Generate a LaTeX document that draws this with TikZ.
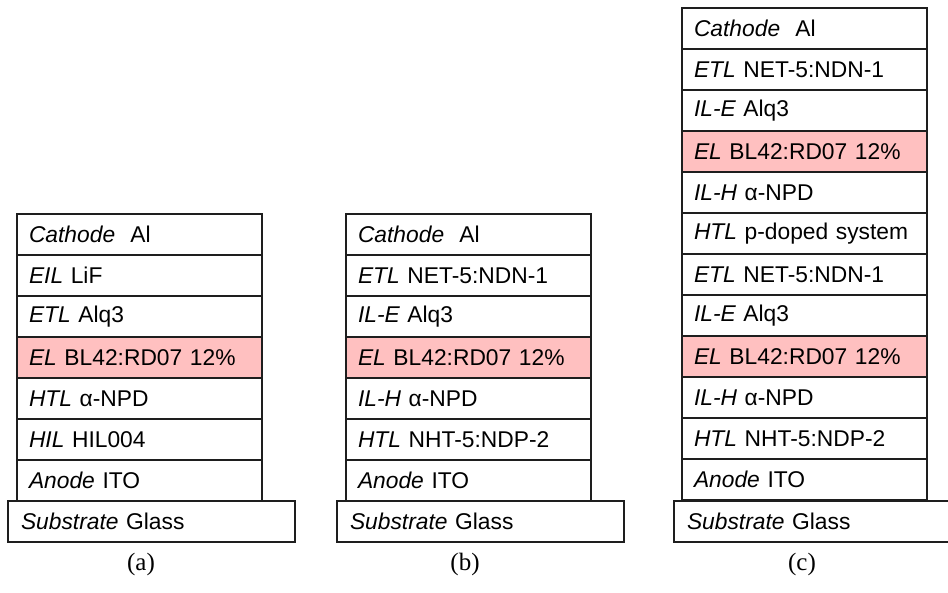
\documentclass[tikz,border=0pt]{standalone}
\usepackage{fontspec}
\setmainfont{Liberation Sans}
\newfontfamily\capfont{Liberation Serif}
\definecolor{elpink}{RGB}{255,192,192}
\definecolor{edge}{RGB}{30,30,30}
\newcommand{\lyr}[1]{{\itshape #1}}
\tikzset{
  layer/.style={draw=edge, line width=1.2pt, anchor=north west, minimum height=41pt,
    minimum width=245pt, text width=221pt, inner xsep=12pt, inner ysep=0pt, outer sep=0pt,
    align=left, font=\fontsize{22.8}{25}\selectfont, fill=white},
  elayer/.style={layer, fill=elpink},
  substrate/.style={layer, minimum width=287pt, text width=261pt, inner xsep=13pt},
  caption/.style={font=\capfont\fontsize{25}{27}\selectfont, inner sep=0pt}
}
\begin{document}
\begin{tikzpicture}[x=1pt,y=-1pt]
\useasboundingbox (0,0) rectangle (948,593);
% (a)
\node[layer]  (a1) at (17,214) {\lyr{Cathode}\ \ Al};
\node[layer]  (a2) at (17,255) {\lyr{EIL} LiF};
\node[layer]  (a3) at (17,296) {\lyr{ETL} Alq3};
\node[elayer] (a4) at (17,337) {\lyr{EL} BL42:RD07 12\%};
\node[layer]  (a5) at (17,378) {\lyr{HTL} α-NPD};
\node[layer]  (a6) at (17,419) {\lyr{HIL} HIL004};
\node[layer]  (a7) at (17,460) {\lyr{Anode} ITO};
\node[substrate] (as) at (8,501) {\lyr{Substrate} Glass};
\node[caption] (ac) at (141,564) {(a)};
% (b)
\node[layer]  (b1) at (346,214) {\lyr{Cathode}\ \ Al};
\node[layer]  (b2) at (346,255) {\lyr{ETL} NET-5:NDN-1};
\node[layer]  (b3) at (346,296) {\lyr{IL-E} Alq3};
\node[elayer] (b4) at (346,337) {\lyr{EL} BL42:RD07 12\%};
\node[layer]  (b5) at (346,378) {\lyr{IL-H} α-NPD};
\node[layer]  (b6) at (346,419) {\lyr{HTL} NHT-5:NDP-2};
\node[layer]  (b7) at (346,460) {\lyr{Anode} ITO};
\node[substrate] (bs) at (337,501) {\lyr{Substrate} Glass};
\node[caption] (bc) at (465,564) {(b)};
% (c)
\node[layer]  (c1)  at (682,8)   {\lyr{Cathode}\ \ Al};
\node[layer]  (c2)  at (682,49)  {\lyr{ETL} NET-5:NDN-1};
\node[layer]  (c3)  at (682,90)  {\lyr{IL-E} Alq3};
\node[elayer] (c4)  at (682,131) {\lyr{EL} BL42:RD07 12\%};
\node[layer]  (c5)  at (682,172) {\lyr{IL-H} α-NPD};
\node[layer]  (c6)  at (682,213) {\lyr{HTL} p-doped system};
\node[layer]  (c7)  at (682,254) {\lyr{ETL} NET-5:NDN-1};
\node[layer]  (c8)  at (682,295) {\lyr{IL-E} Alq3};
\node[elayer] (c9)  at (682,336) {\lyr{EL} BL42:RD07 12\%};
\node[layer]  (c10) at (682,377) {\lyr{IL-H} α-NPD};
\node[layer]  (c11) at (682,418) {\lyr{HTL} NHT-5:NDP-2};
\node[layer]  (c12) at (682,459) {\lyr{Anode} ITO};
\node[substrate] (cs) at (674,501) {\lyr{Substrate} Glass};
\node[caption] (cc) at (802,564) {(c)};
\end{tikzpicture}
\end{document}
